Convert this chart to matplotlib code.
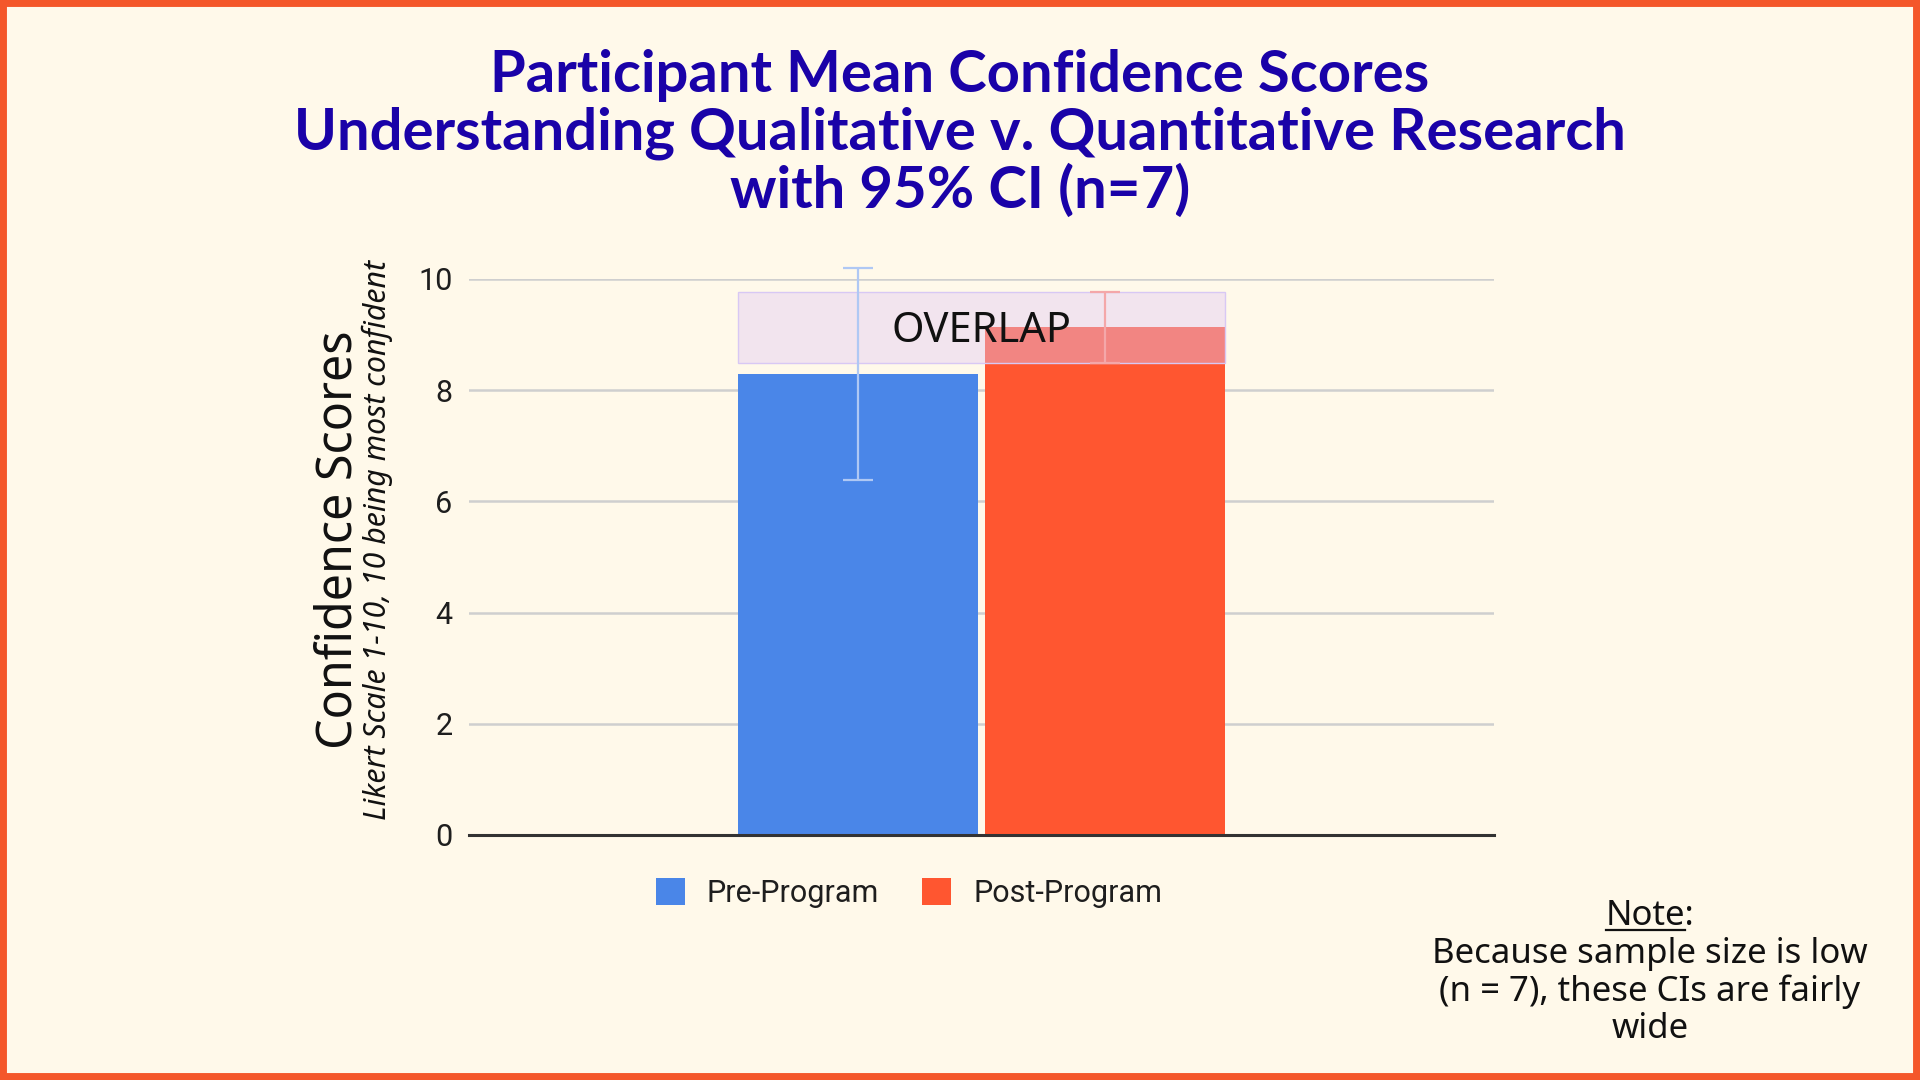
import matplotlib.pyplot as plt
from matplotlib.patches import Rectangle
from matplotlib.lines import Line2D

# values
groups = ['Pre-Program', 'Post-Program']
means = [8.29, 9.13]
ci_half = [1.90, 0.64]
bar_colors = ['#4A86E8', '#FF5630']
err_colors = ['#AFC8F4', '#F4A7A9']
yticks = [0, 2, 4, 6, 8, 10]

title_lines = ['Participant Mean Confidence Scores',
               'Understanding Qualitative v. Quantitative Research',
               'with 95% CI (n=7)']
note_lines = ['Because sample size is low',
              '(n = 7), these CIs are fairly',
              'wide']

W, H = 1920, 1080
bg = '#FFF9EA'

plt.rcParams['font.family'] = ['Noto Sans', 'DejaVu Sans']

fig = plt.figure(figsize=(W / 100, H / 100), dpi=100, facecolor=bg)
fig.patches.append(Rectangle((0, 0), 1, 1, transform=fig.transFigure, fill=False,
                             edgecolor='#F4572A', linewidth=10))
renderer = fig.canvas.get_renderer()


def fit(t, px, vertical=False):
    bb = t.get_window_extent(renderer)
    cur = bb.height if vertical else bb.width
    t.set_fontsize(t.get_fontsize() * px / cur)


# axes box (pixels from the reference)
ax = fig.add_axes([469 / W, 1 - 835 / H, (1494 - 469) / W, (835 - 279) / H])
ax.set_facecolor('none')

bw = 0.47
xs = [-(bw + 0.012) / 2, (bw + 0.012) / 2]
bars = ax.bar(xs, means, width=bw, color=bar_colors, zorder=2)

for i in range(len(groups)):
    ax.errorbar(xs[i], means[i], yerr=ci_half[i], fmt='none', ecolor=err_colors[i],
                elinewidth=1.6, capsize=11, capthick=1.6, zorder=5, clip_on=False)

# overlap of the two confidence intervals
lo = max(m - c for m, c in zip(means, ci_half))
hi = min(m + c for m, c in zip(means, ci_half))
x0 = xs[0] - bw / 2
x1 = xs[1] + bw / 2
ax.add_patch(Rectangle((x0, lo), x1 - x0, hi - lo, facecolor=(0.878, 0.784, 0.961, 0.42),
                       edgecolor='#D8C8F4', linewidth=1, zorder=3))
ov = ax.text(0, (lo + hi) / 2 - 0.27, 'OVERLAP', ha='center', va='baseline', fontsize=28,
             color='#111111', zorder=6)

ax.set_xlim(-1, 1)
ax.set_ylim(0, 10)
ax.set_yticks(yticks)
ax.set_xticks([])
ax.yaxis.grid(True, color='#CFCFCF', linewidth=1.8)
ax.set_axisbelow(True)
for s in ['top', 'right', 'left']:
    ax.spines[s].set_visible(False)
ax.spines['bottom'].set_color('#333333')
ax.spines['bottom'].set_linewidth(2.2)
ax.spines['bottom'].set_zorder(4)
ax.tick_params(axis='y', length=0, pad=12, labelsize=22, labelcolor='#1E1E1E')
for lbl in ax.get_yticklabels():
    lbl.set_fontfamily('Roboto')

fig.legend(bars, groups, loc='center', bbox_to_anchor=(909 / W, 1 - 893 / H), ncol=2,
           frameon=False, prop={'family': 'Roboto', 'size': 22}, labelcolor='#1E1E1E',
           handlelength=0.95, handleheight=0.95, handletextpad=0.72, columnspacing=1.4)

# title, one line at a time
title_base = [92, 150, 208]
tts = []
for line, yb in zip(title_lines, title_base):
    tts.append(fig.text(0.5, 1 - yb / H, line, ha='center', va='baseline', fontsize=38,
                        family=['Lato', 'DejaVu Sans'], fontweight='bold',
                        color='#1A02A8'))
fit(tts[1], 1332)
for t in tts:
    t.set_fontsize(tts[1].get_fontsize())

yl = fig.text(338 / W, 1 - 540 / H, 'Confidence Scores', rotation=90, ha='center',
              va='center', fontsize=36, color='#111111')
fit(yl, 419, vertical=True)
sub = fig.text(377 / W, 1 - 540 / H, 'Likert Scale 1-10, 10 being most confident',
               rotation=90, ha='center', va='center', fontsize=18, style='italic',
               color='#111111')
fit(sub, 561, vertical=True)
fit(ov, 180)

# note in the lower right
note_y = [954, 992, 1029]
nls = []
for line, yc in zip(note_lines, note_y):
    nls.append(fig.text(1650 / W, 1 - yc / H, line, ha='center', va='center',
                        fontsize=23, color='#111111'))
fit(nls[0], 436)
fs = nls[0].get_fontsize()
for t in nls:
    t.set_fontsize(fs)
nt = fig.text(1650 / W, 1 - 916 / H, 'Note:', ha='center', va='center', fontsize=fs,
              color='#111111')

# underline under "Note" (not the colon)
bb = nt.get_window_extent(renderer)
colon = fig.text(0, 0, ':', fontsize=fs)
cw = colon.get_window_extent(renderer).width
colon.remove()
uy = bb.y0 + 3
fig.add_artist(Line2D([bb.x0 / W, (bb.x1 - cw) / W], [uy / H, uy / H],
                      transform=fig.transFigure, color='#111111', linewidth=1.6))

fig.savefig('out.png', dpi=100, facecolor=bg)
